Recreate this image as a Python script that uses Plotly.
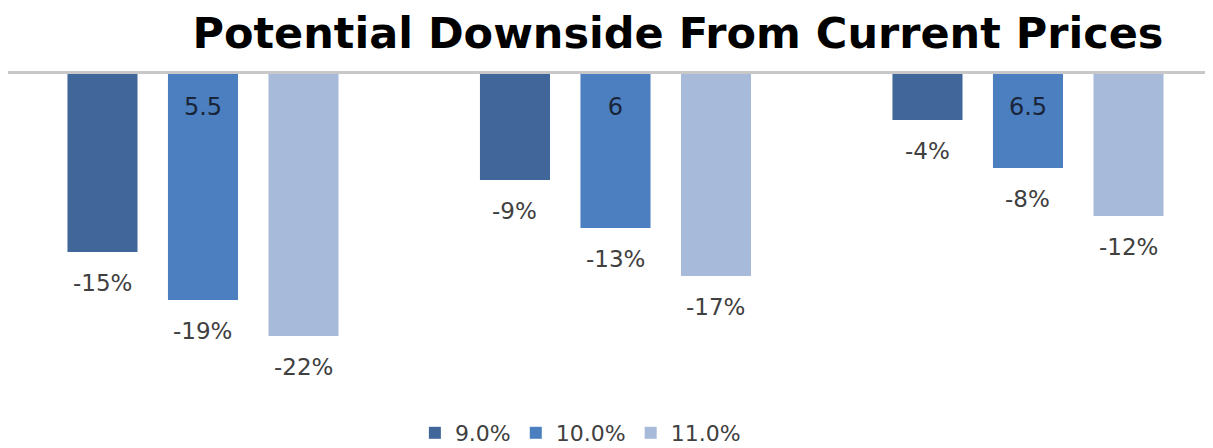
import plotly.graph_objects as go

categories = ["5.5", "6", "6.5"]
series_names = ["9.0%", "10.0%", "11.0%"]
series_values = [
    [-15, -9, -4],
    [-19, -13, -8],
    [-22, -17, -12],
]
colors = ["#41679a", "#4b7fc0", "#a7bada"]

FONT = "DejaVu Sans, Liberation Sans, Arial"

fig = go.Figure()
for name, vals, col in zip(series_names, series_values, colors):
    fig.add_trace(go.Bar(x=categories, y=vals, name=name, marker_color=col,
                         marker_line_width=0, hoverinfo="skip"))

# data labels under each bar (category index positions, offset per series)
offsets = [-100.5, 0, 100.5]
for vals, off in zip(series_values, offsets):
    for i, v in enumerate(vals):
        fig.add_annotation(x=i, y=v, xref="x", yref="y", text=f"{v}%", showarrow=False,
                           xshift=off, yshift=-16, yanchor="top",
                           font=dict(family=FONT, size=23, color="#404040"))

W, H = 1205, 440
fig.update_layout(
    width=W, height=H,
    margin=dict(l=0, r=0, t=64, b=52, autoexpand=False),
    paper_bgcolor="white", plot_bgcolor="white",
    barmode="group", bargap=0.269, bargroupgap=0.303,
    title=dict(text="<b>Potential Downside From Current Prices</b>",
               x=0.556, xanchor="center", xref="paper",
               y=1 - 25 / H, yanchor="middle", yref="container",
               font=dict(family=FONT, size=43, color="black")),
    xaxis=dict(type="category", range=[-0.4727, 2.4485], anchor="free", position=1, side="bottom",
               showline=True, linecolor="#c8c8c8", linewidth=3, showgrid=False, zeroline=False,
               ticks="outside", ticklen=12, tickcolor="rgba(0,0,0,0)",
               tickfont=dict(family=FONT, size=24, color="#1a2438")),
    yaxis=dict(range=[-27, 0], visible=False, showgrid=False, zeroline=False),
    legend=dict(orientation="h", x=0.475, xanchor="center", y=1 - 425 / H, yanchor="middle",
                yref="container", font=dict(family=FONT, size=22, color="#404040"),
                itemwidth=30, tracegroupgap=0),
    showlegend=True,
)

fig.write_html("out.html")
